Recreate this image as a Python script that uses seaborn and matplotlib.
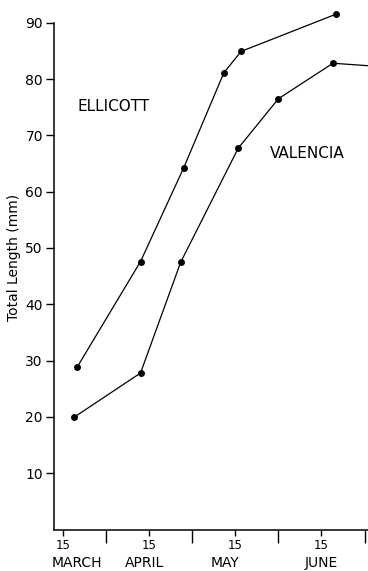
import matplotlib
matplotlib.use("Agg")
import matplotlib.pyplot as plt
import pandas as pd
import seaborn as sns

# Sampling dates as days counted on a 30-day-month calendar from 1 March
ellicott_day = [20, 42, 57, 71, 77, 110]
ellicott_len = [28.9, 47.6, 64.2, 81.1, 84.9, 91.5]
valencia_day = [19, 42, 56, 76, 90, 109, 123]
valencia_len = [20.0, 27.8, 47.5, 67.7, 76.5, 82.8, 82.3]

y_ticks = [10, 20, 30, 40, 50, 60, 70, 80, 90]
mid_month_days = [15, 45, 75, 105]
month_start_days = [30, 60, 90, 120]
month_names = ["MARCH", "APRIL", "MAY", "JUNE"]
month_name_pos = [20, 43.5, 71.5, 105]

df = pd.concat([
    pd.DataFrame({"day": ellicott_day, "length": ellicott_len, "site": "ELLICOTT"}),
    pd.DataFrame({"day": valencia_day, "length": valencia_len, "site": "VALENCIA"}),
])

sns.set_theme(style="ticks")
plt.rcParams["font.family"] = ["DejaVu Sans"]

fig = plt.figure(figsize=(3.68, 5.71), dpi=100)
ax = fig.add_axes([54 / 368, 1 - 529.6 / 571, 1 - 54 / 368, (529.6 - 22.7) / 571])

for site in ["ELLICOTT", "VALENCIA"]:
    sub = df[df["site"] == site]
    sns.lineplot(data=sub, x="day", y="length", ax=ax, color="black",
                 linewidth=0.9, marker="o", markersize=5, markeredgewidth=0,
                 estimator=None, sort=False, clip_on=False)

ax.set_xlim(11.87, 121.2)
ax.set_ylim(0, 90)

sns.despine(ax=ax, top=True, right=True)
for side in ["left", "bottom"]:
    ax.spines[side].set_linewidth(1.1)
    ax.spines[side].set_color("black")

ax.set_yticks(y_ticks)
ax.set_yticklabels([str(v) for v in y_ticks])
ax.tick_params(axis="y", direction="out", length=6, width=1, pad=2,
               labelsize=10, colors="black")

ax.set_xticks(mid_month_days)
ax.set_xticklabels(["15"] * len(mid_month_days))
ax.set_xticks(month_start_days, minor=True)
ax.tick_params(axis="x", which="major", direction="out", length=4, width=1,
               pad=3, labelsize=8.5, colors="black")
ax.tick_params(axis="x", which="minor", direction="out", length=9, width=1,
               colors="black")

# Month names sit on a baseline just under the day labels
for name, pos in zip(month_names, month_name_pos):
    ax.text(pos, -0.0738, name, transform=ax.get_xaxis_transform(),
            ha="center", va="baseline", fontsize=10, color="black")

ax.set_xlabel("")
ax.set_ylabel("Total Length (mm)", fontsize=10, color="black")
ax.yaxis.set_label_coords(-0.105, 0.536)

ax.text(20.2, 75.1, "ELLICOTT", ha="left", va="center", fontsize=11, color="black")
ax.text(87.1, 66.7, "VALENCIA", ha="left", va="center", fontsize=11, color="black")

ax.grid(False)
ax.set_facecolor("white")
fig.patch.set_facecolor("white")

fig.savefig("out.png", dpi=100)
